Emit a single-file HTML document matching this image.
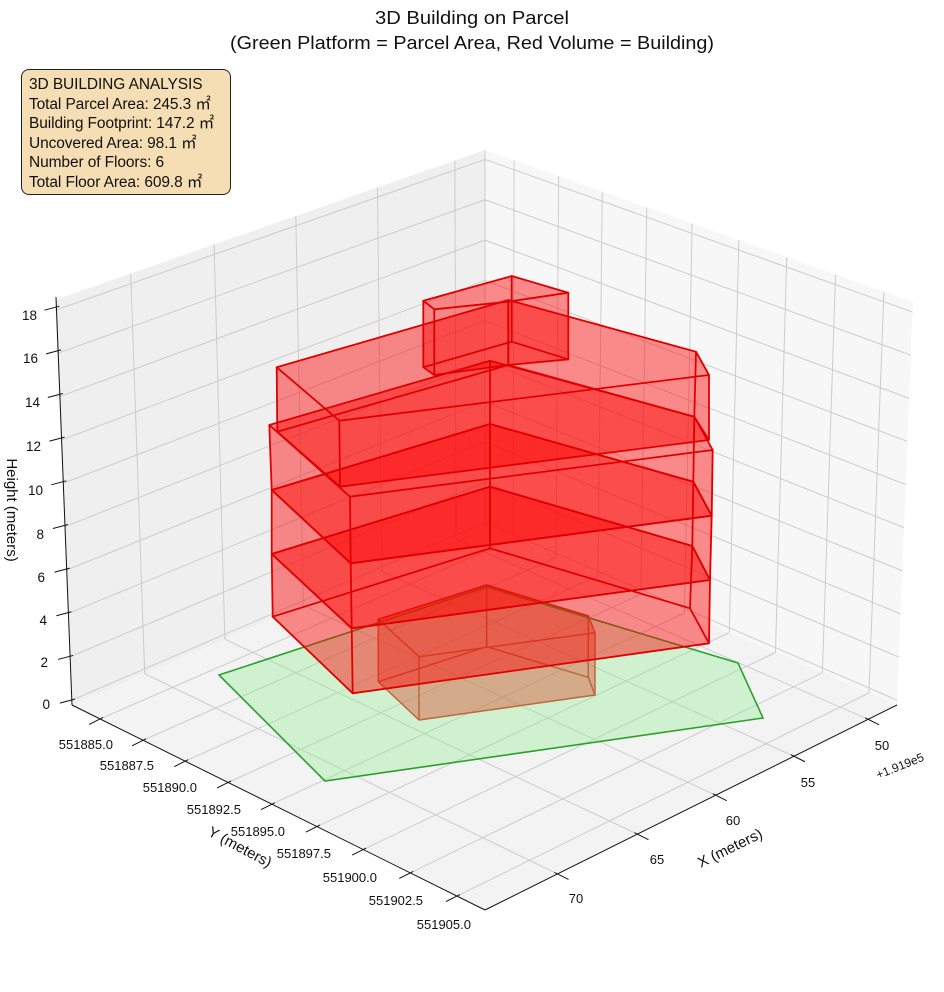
<!DOCTYPE html>
<html><head><meta charset="utf-8">
<style>
html,body{margin:0;padding:0;background:#fff;}
body{width:944px;height:992px;overflow:hidden;position:relative;font-family:"Liberation Sans","Noto Sans CJK JP",sans-serif;}
svg{position:absolute;left:0;top:0;}
text{font-family:"Liberation Sans","Noto Sans CJK JP",sans-serif;fill:#111;}
.box{position:absolute;left:21px;top:69px;width:193px;height:111px;padding:5px 8px 8px 7px;background:#f5deb3;border:1px solid #222;border-radius:8px;font-size:15.5px;line-height:19.6px;color:#111;white-space:nowrap;letter-spacing:-0.1px;}
</style></head><body>
<svg id="s" width="944" height="992" viewBox="0 0 944 992">
<g id="panes"></g>
<g id="grid" stroke="#cccccc" stroke-width="1" fill="none"></g>
<g id="axes" stroke="#111" stroke-width="1" fill="none"></g>
<g id="b1"></g>
<polygon points="219,675 487,587 738,663 763,718 325,781" fill="rgb(144,238,144)" fill-opacity="0.35" stroke="#2ca02c" stroke-width="1.6"/>
<g id="b2"></g>
<text x="472" y="24" font-size="18" text-anchor="middle" textLength="194" lengthAdjust="spacingAndGlyphs">3D Building on Parcel</text>
<text x="472" y="49" font-size="18" text-anchor="middle" textLength="484" lengthAdjust="spacingAndGlyphs">(Green Platform = Parcel Area, Red Volume = Building)</text>
<g font-size="13.5" text-anchor="end">
<text x="37" y="320">18</text><text x="38" y="363">16</text><text x="40" y="407">14</text><text x="41" y="451">12</text><text x="43" y="495">10</text><text x="44" y="539">8</text><text x="45" y="582">6</text><text x="47" y="625">4</text><text x="48" y="667">2</text><text x="50" y="709">0</text>
</g>
<g font-size="13" text-anchor="end">
<text x="113" y="749">551885.0</text><text x="154" y="770">551887.5</text><text x="197" y="792">551890.0</text><text x="241" y="814">551892.5</text><text x="285" y="836">551895.0</text><text x="331" y="858">551897.5</text><text x="377" y="882">551900.0</text><text x="423" y="905">551902.5</text><text x="471" y="929">551905.0</text>
</g>
<g font-size="13" text-anchor="middle">
<text x="882" y="750">50</text><text x="808" y="787">55</text><text x="733" y="825">60</text><text x="657" y="864">65</text><text x="576" y="903">70</text>
</g>
<text x="900" y="770" font-size="12" text-anchor="middle" transform="rotate(-22 900 766)">+1.919e5</text>
<text x="730" y="853" font-size="15" text-anchor="middle" transform="rotate(-26 730 848)">X (meters)</text>
<text x="240" y="852" font-size="15" text-anchor="middle" transform="rotate(28 240 847)">Y (meters)</text>
<text x="5" y="508" font-size="15" text-anchor="middle" transform="rotate(90 5 510)">Height (meters)</text>
</svg>
<div class="box">3D BUILDING ANALYSIS<br>Total Parcel Area: 245.3 ㎡<br>Building Footprint: 147.2 ㎡<br>Uncovered Area: 98.1 ㎡<br>Number of Floors: 6<br>Total Floor Area: 609.8 ㎡</div>
<script>
(function(){
var NS="http://www.w3.org/2000/svg";
function el(p,tag,at){var e=document.createElementNS(NS,tag);for(var k in at)e.setAttribute(k,at[k]);p.appendChild(e);return e;}
function L(a,b,t){return [a[0]+(b[0]-a[0])*t,a[1]+(b[1]-a[1])*t];}
function pts(a){return a.map(function(p){return p[0].toFixed(1)+","+p[1].toFixed(1);}).join(" ");}
var A=[55,300],B=[485,150],C=[485,527],D=[72,705],E=[913,302],F=[897,705],G=[485,910];
var panes=document.getElementById("panes");
el(panes,"polygon",{points:pts([A,B,C,D]),fill:"#efefef"});
el(panes,"polygon",{points:pts([B,E,F,C]),fill:"#f7f7f7"});
el(panes,"polygon",{points:pts([C,F,G,D]),fill:"#f3f3f3"});
var g=document.getElementById("grid");
function ln(p,a,b){el(p,"line",{x1:a[0],y1:a[1],x2:b[0],y2:b[1]});}
for(var z=0;z<=18;z+=2){var t=0.012+z*0.0535;var p1=L(D,A,t),p2=L(C,B,t),p3=L(F,E,t);ln(g,p1,p2);ln(g,p2,p3);}
var lf=[0.176,0.37,0.56,0.75,0.93];
lf.forEach(function(f){var b=L(D,C,f);ln(g,b,L(A,B,f));ln(g,b,L(G,F,f));});
var rg=[0.068,0.172,0.274,0.378,0.484,0.593,0.705,0.819,0.932];
rg.forEach(function(f){var b=L(C,F,f);ln(g,b,L(B,E,f));ln(g,b,L(D,G,f));});
ln(g,C,B);
var ax=document.getElementById("axes");
ln(ax,D,[56,297]);ln(ax,D,G);ln(ax,G,F);
for(var z=0;z<=18;z+=2){var t=0.012+z*0.0535;var p=L(D,[56,297],t);ln(ax,[p[0]+3,p[1]-1],[p[0]-12,p[1]+3]);}
rg.forEach(function(f){var p=L(D,G,f);ln(ax,[p[0]+3,p[1]-1.5],[p[0]-11,p[1]+5.5]);});
lf.forEach(function(f){var p=L(G,F,f);ln(ax,[p[0]-3,p[1]-1.5],[p[0]+11,p[1]+5.5]);});
function prism(par,T,Bm){
  el(par,"polygon",{points:pts(Bm),fill:"#ff0000","fill-opacity":"0.25"});
  for(var i=0;i<T.length;i++){var j=(i+1)%T.length;el(par,"polygon",{points:pts([T[i],T[j],Bm[j],Bm[i]]),fill:"#ff0000","fill-opacity":"0.25"});}
  el(par,"polygon",{points:pts(T),fill:"#ff0000","fill-opacity":"0.25"});
}
function edges(par,T,Bm,stroke,w){
  el(par,"polygon",{points:pts(Bm),fill:"none",stroke:stroke,"stroke-width":w,"stroke-linejoin":"round"});
  el(par,"polygon",{points:pts(T),fill:"none",stroke:stroke,"stroke-width":w,"stroke-linejoin":"round"});
  for(var i=0;i<T.length;i++)el(par,"line",{x1:T[i][0],y1:T[i][1],x2:Bm[i][0],y2:Bm[i][1],stroke:stroke,"stroke-width":w});
}
var b1=document.getElementById("b1"),b2=document.getElementById("b2");
var f1T=[[378.3,619.3],[486.7,585],[588.3,616],[595,632.7],[419,656.7]];
var f1B=[[378.3,681.7],[486.7,646.7],[588.3,677.3],[595,695],[419,720]];
prism(b1,f1T,f1B);edges(b1,f1T,f1B,"#d42010",1.5);
var lv=[
[[272.7,616.7],[490,548.3],[690,608.3],[709,643.3],[352.7,693.3]],
[[271.7,554],[490,486.7],[692.3,546],[710,580],[351.7,628.3]],
[[271.7,490],[490,424],[693.3,481.7],[711.7,515.7],[350.7,563.3]],
[[269.3,425],[490,360.7],[694.3,416.7],[712.7,450],[350,496.7]]];
var f5T=[[276.7,367.3],[508.3,300],[696,351.7],[709,375],[339.3,420.7]];
var f5B=[[277.3,431.7],[508.3,365],[694.3,416.7],[709,440],[340,486.7]];
var f6T=[[423.3,300.7],[511.7,276],[568.3,292.7],[508.3,301.7],[434.3,309.3]];
var f6B=[[423.3,367.3],[511.7,341.7],[568.3,359.3],[508.3,365],[434.3,375]];
var list=[[lv[1],lv[0]],[lv[2],lv[1]],[lv[3],lv[2]],[f5T,f5B],[f6T,f6B]];
list.forEach(function(q){prism(b2,q[0],q[1]);});
list.forEach(function(q){edges(b2,q[0],q[1],"#e00000",1.8);});
})();
</script>
</body></html>
